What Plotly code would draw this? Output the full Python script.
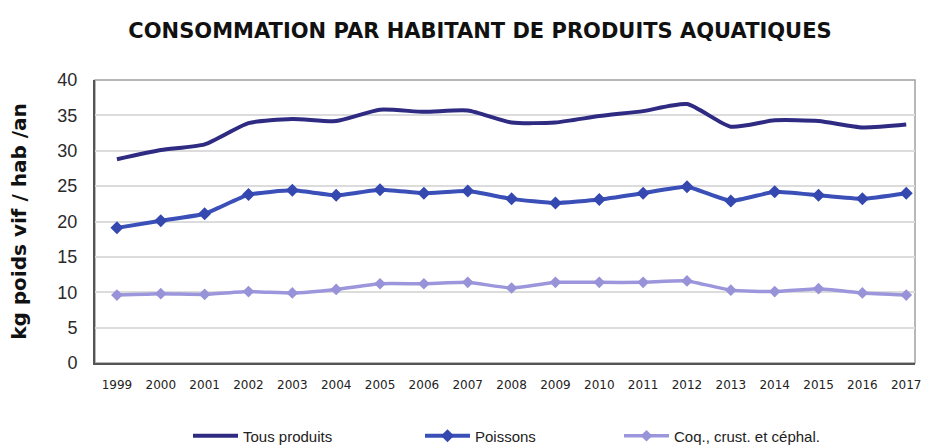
import plotly.graph_objects as go

# Years on the category axis
years = ["1999", "2000", "2001", "2002", "2003", "2004", "2005", "2006", "2007",
         "2008", "2009", "2010", "2011", "2012", "2013", "2014", "2015", "2016", "2017"]

# Consumption per inhabitant, kg live weight / inhabitant / year
tous_produits = [28.8, 30.1, 30.9, 33.9, 34.5, 34.2, 35.8, 35.5, 35.7,
                 34.0, 34.0, 34.9, 35.6, 36.6, 33.4, 34.3, 34.2, 33.3, 33.7]
poissons = [19.1, 20.1, 21.1, 23.8, 24.4, 23.7, 24.5, 24.0, 24.3,
            23.2, 22.6, 23.1, 24.0, 24.9, 22.9, 24.2, 23.7, 23.2, 24.0]
coquillages = [9.6, 9.8, 9.7, 10.1, 9.9, 10.4, 11.2, 11.2, 11.4,
               10.6, 11.4, 11.4, 11.4, 11.6, 10.3, 10.1, 10.5, 9.9, 9.6]

y_ticks = [0, 5, 10, 15, 20, 25, 30, 35, 40]

SANS = "Liberation Sans, Arial, sans-serif"
WIDE = "DejaVu Sans, Verdana, sans-serif"

fig = go.Figure()

fig.add_trace(go.Scatter(
    x=years, y=tous_produits, name="Tous produits", legend="legend",
    mode="lines",
    line=dict(color="#2f2a82", width=4, shape="spline", smoothing=0.6),
))
fig.add_trace(go.Scatter(
    x=years, y=poissons, name="Poissons", legend="legend2",
    mode="lines+markers",
    line=dict(color="#3a4fb8", width=4, shape="spline", smoothing=0.4),
    marker=dict(symbol="diamond", size=10, color="#3448b0"),
))
fig.add_trace(go.Scatter(
    x=years, y=coquillages, name="Coq., crust. et céphal.", legend="legend3",
    mode="lines+markers",
    line=dict(color="#9c96dc", width=3.5, shape="spline", smoothing=0.4),
    marker=dict(symbol="diamond", size=9, color="#9893d8"),
))

# Plot area spans x 95..915 px and y 80..363 px
PX_L, PX_W, PX_T, PX_H = 95, 820, 80, 283


def legend_at(x_px, y_px):
    return dict(
        orientation="h",
        x=(x_px - PX_L) / PX_W, xanchor="left",
        y=-(y_px - (PX_T + PX_H)) / PX_H, yanchor="middle",
        itemwidth=45,
        font=dict(size=15, color="#222222", family=SANS),
        bgcolor="rgba(0,0,0,0)",
    )


fig.update_layout(
    width=928, height=446,
    margin=dict(l=95, r=13, t=80, b=83, autoexpand=False),
    paper_bgcolor="white",
    plot_bgcolor="white",
    font=dict(family=SANS, color="#222222"),
    title=dict(
        text="<b>CONSOMMATION PAR HABITANT DE PRODUITS AQUATIQUES</b>",
        x=480 / 928, xanchor="center", y=1 - 31 / 446, yanchor="middle",
        font=dict(size=21, color="#111111", family=WIDE),
    ),
    showlegend=True,
    legend=legend_at(188, 436),
    legend2=legend_at(420, 436),
    legend3=legend_at(619, 436),
)

fig.update_xaxes(
    type="category",
    range=[-0.5, 18.2],
    showgrid=False,
    showline=True, linecolor="#555555", linewidth=2, mirror=False,
    ticks="", ticklabelstandoff=10,
    tickfont=dict(size=12, color="#222222", family=WIDE),
)
fig.update_yaxes(
    range=[0, 40],
    tickvals=y_ticks,
    showgrid=True, gridcolor="#dcdcdc", gridwidth=2,
    showline=True, linecolor="#555555", linewidth=2,
    ticks="", ticklabelstandoff=12,
    tickfont=dict(size=18, color="#2a2a2a", family=SANS),
    title=dict(text="<b>kg poids vif / hab /an</b>", standoff=25,
               font=dict(size=20, color="#111111", family=WIDE)),
    zeroline=False,
)

# Light frame around the plot area
fig.add_shape(type="rect", xref="paper", yref="paper", x0=0, x1=1, y0=0, y1=1,
              line=dict(color="#a0a0a0", width=1.5), layer="below")

fig.write_html("out.html")
